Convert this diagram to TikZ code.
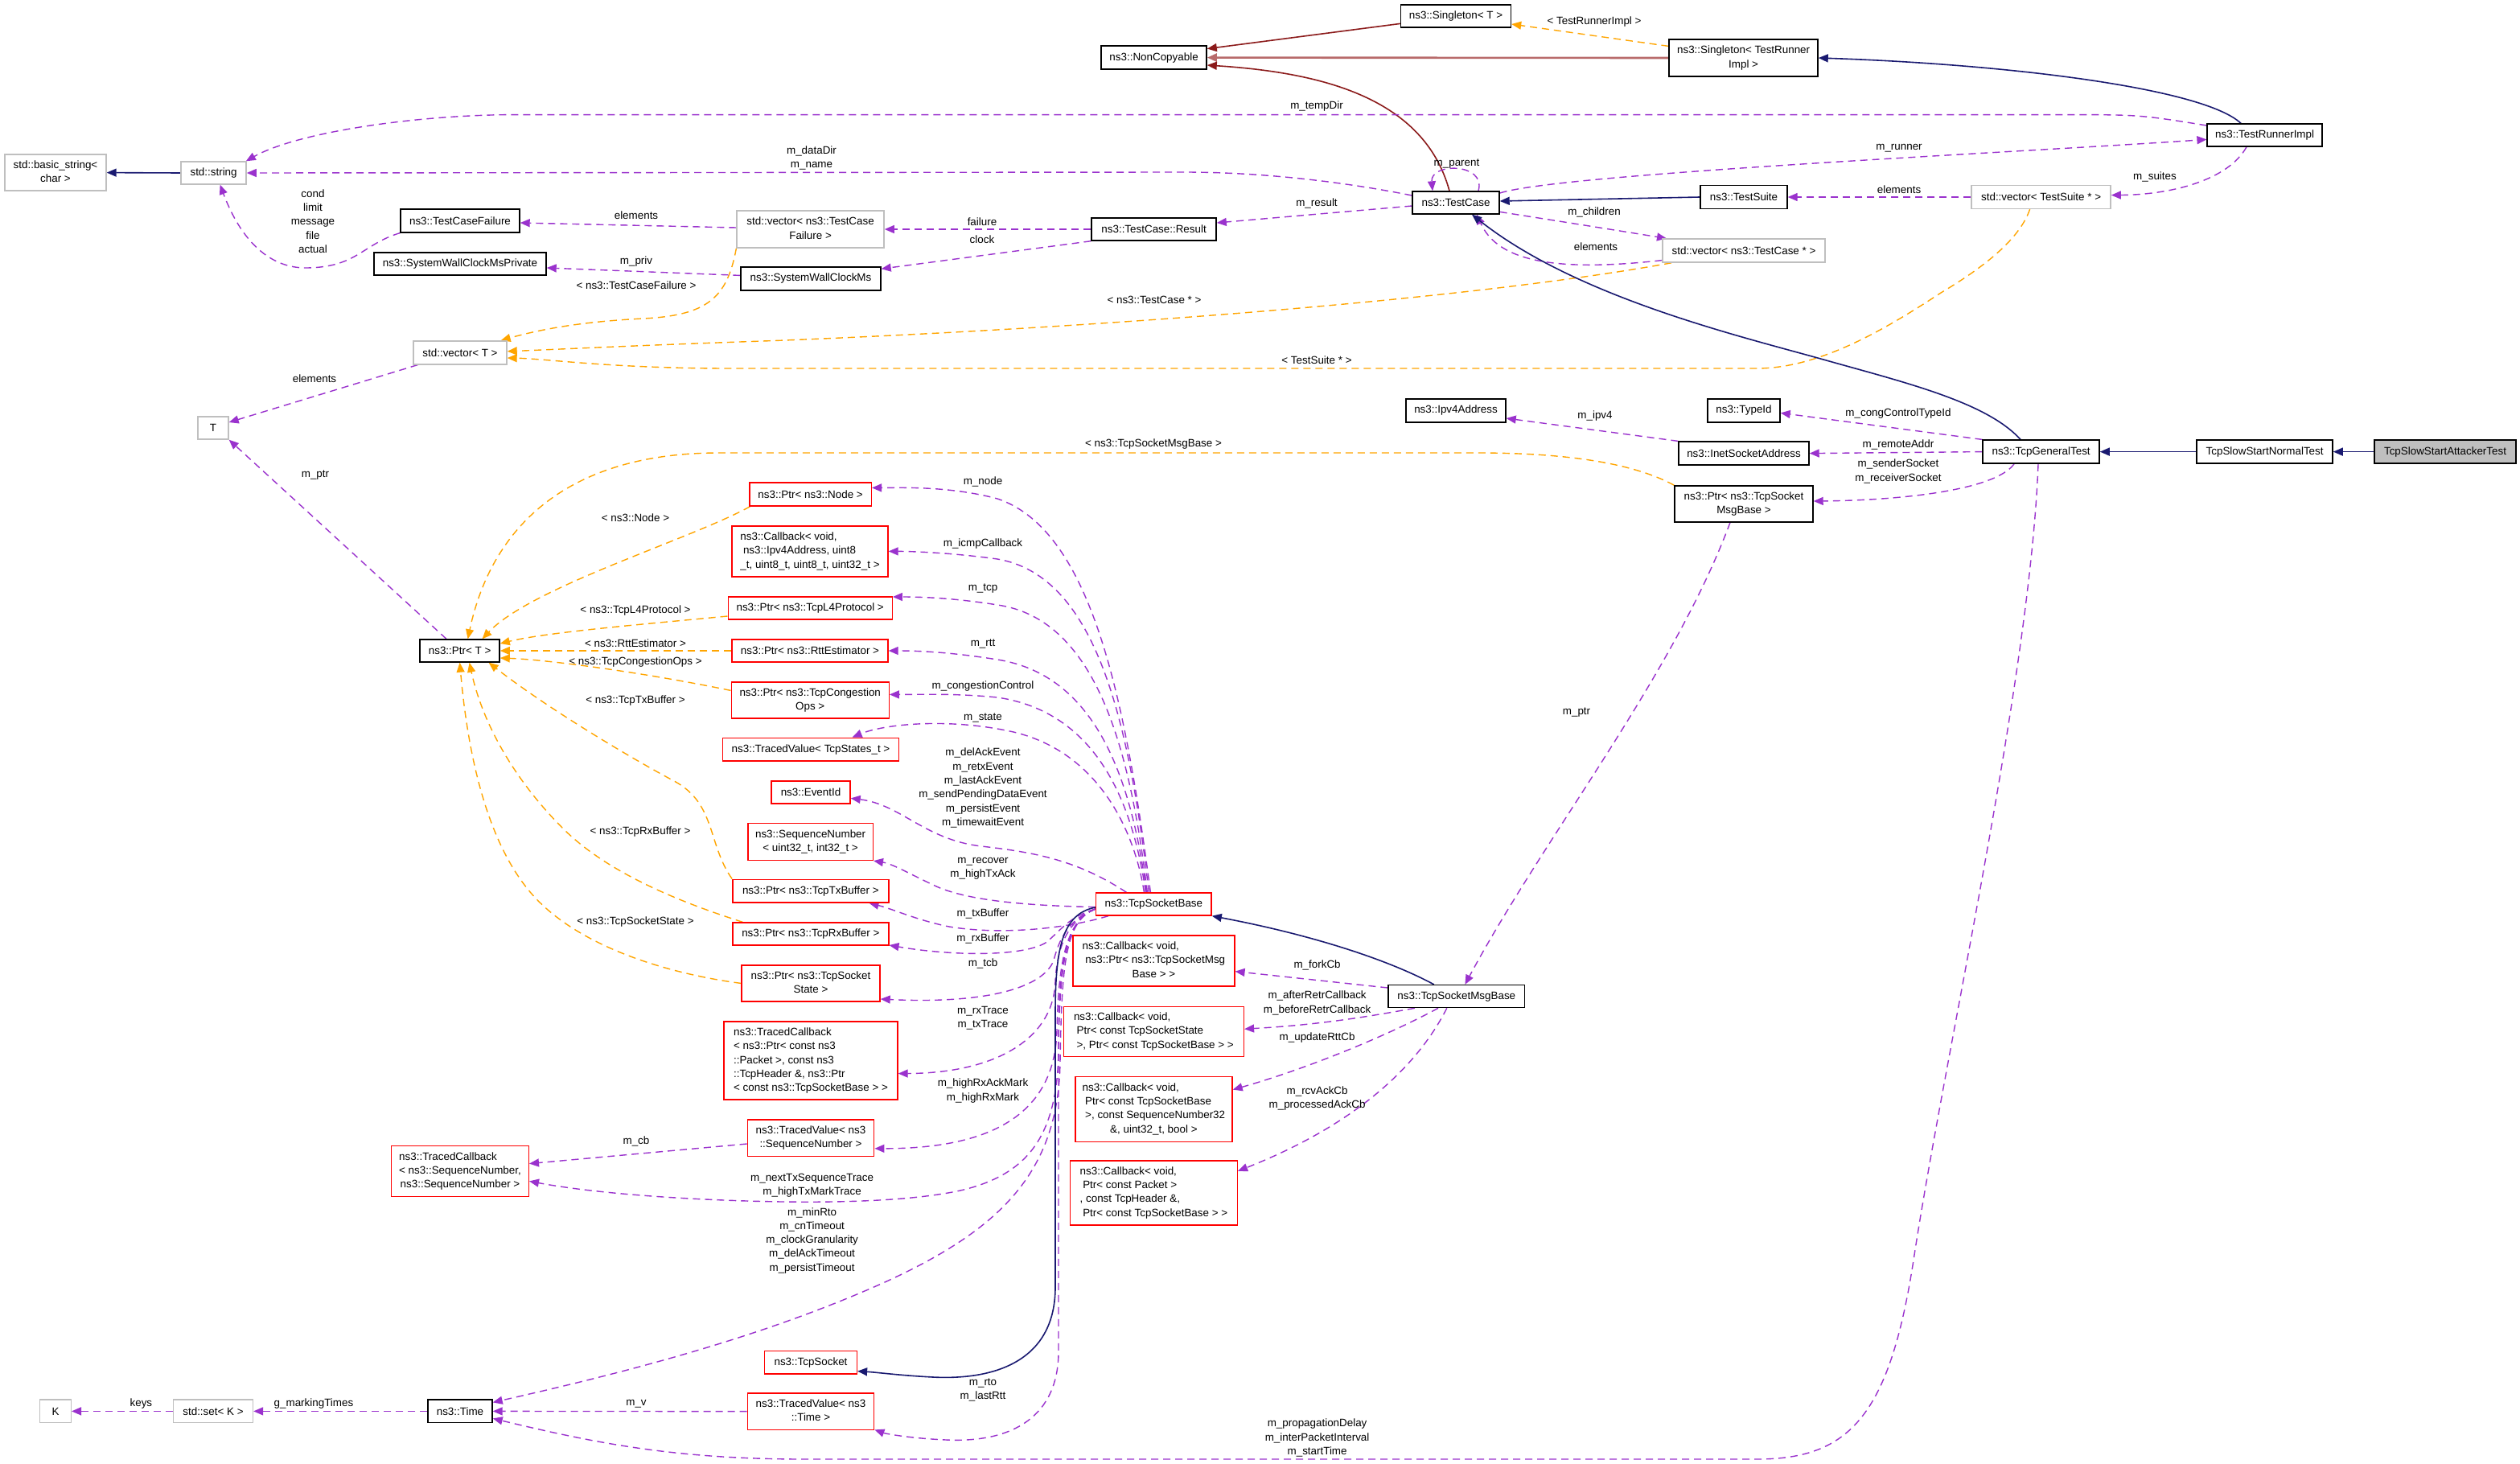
\documentclass[tikz,border=0pt]{standalone}
\usepackage{fontspec}
\setmainfont{Liberation Sans}
\usetikzlibrary{arrows.meta}
\definecolor{navy}{HTML}{191970}
\definecolor{usep}{HTML}{9A32CD}
\definecolor{orng}{HTML}{FFA500}
\definecolor{fbrick}{HTML}{8B1A1A}
\definecolor{fbrickl}{HTML}{B86A6A}
\definecolor{extg}{HTML}{BFBFBF}
\definecolor{incr}{HTML}{FF0000}
\newcommand{\fsz}{\fontsize{6.7}{8.65}\selectfont}
\newcommand{\mlines}[2]{\begin{tabular}{@{}l@{}}#1\\\multicolumn{1}{@{}c@{}}{#2}\end{tabular}}
\newcommand{\lsp}{\hspace*{1.8pt}}
\pgfdeclarelayer{bg}
\pgfsetlayers{bg,main}
\begin{document}
\begin{tikzpicture}[x=1pt,y=-1pt,
  box/.style={draw, line width=0.7pt, inner sep=0pt, font=\fsz, fill=white},
  doc/.style={box, draw=black},
  ext/.style={box, draw=extg},
  inc/.style={box, draw=incr},
  wh/.style 2 args={minimum width=#1pt, minimum height=#2pt},
  lbl/.style={font=\fsz, align=center, inner sep=0pt},
  inh/.style={draw=navy, line width=0.8pt, -{Triangle[length=6pt,width=5pt]}},
  use/.style={draw=usep, line width=0.7pt, dash pattern=on 4.5pt off 3pt, -{Triangle[length=6pt,width=5pt]}},
  tmpl/.style={draw=orng, line width=0.7pt, dash pattern=on 4.5pt off 3pt, -{Triangle[length=6pt,width=5pt]}},
  priv/.style={draw=fbrick, line width=0.8pt, -{Triangle[length=6pt,width=5pt]}},
  privl/.style={draw=fbrickl, line width=1.3pt, -{Triangle[length=6pt,width=5pt]}}
]
\useasboundingbox (0,0) rectangle (1566.5,910);

% ---------- nodes ----------
\node[doc,wh={68.5}{14}] (singT) at (905,10) {ns3::Singleton< T >};
\node[doc,wh={65.5}{14.5}] (noncopy) at (717.3,35.8) {ns3::NonCopyable};
\node[doc,wh={92.5}{23}] (singTRI) at (1083.8,36) {\mlines{ns3::Singleton< TestRunner}{Impl >}};
\node[doc,wh={71.5}{14}] (runner) at (1407.8,84) {ns3::TestRunnerImpl};
\node[ext,wh={63}{22.5}] (bstr) at (34.5,107.3) {\mlines{std::basic\_string<}{char >}};
\node[ext,wh={40.5}{14}] (str) at (132.8,107.5) {std::string};
\node[doc,wh={54}{14}] (testcase) at (905,126) {ns3::TestCase};
\node[doc,wh={54}{14.5}] (testsuite) at (1084,122.5) {ns3::TestSuite};
\node[ext,wh={86.5}{14.5}] (vecTS) at (1268.8,122.5) {std::vector< TestSuite * >};
\node[doc,wh={74}{14.5}] (tcf) at (286,137.2) {ns3::TestCaseFailure};
\node[ext,wh={91.5}{23}] (vecTCF) at (503.8,142.5) {\mlines{std::vector< ns3::TestCase}{Failure >}};
\node[doc,wh={77.5}{14}] (result) at (717.3,142.5) {ns3::TestCase::Result};
\node[ext,wh={101}{14.5}] (vecTC) at (1084,155.8) {std::vector< ns3::TestCase * >};
\node[doc,wh={107}{14}] (swcp) at (286,164) {ns3::SystemWallClockMsPrivate};
\node[doc,wh={87}{14.5}] (swc) at (504,173.2) {ns3::SystemWallClockMs};
\node[ext,wh={58}{14.5}] (vecT) at (286,219.2) {std::vector< T >};
\node[ext,wh={19}{14}] (T) at (132.5,266) {T};
\node[doc,wh={45}{14.5}] (typeid) at (1084,255.2) {ns3::TypeId};
\node[doc,wh={62}{14.5}] (ipv4) at (905,255.2) {ns3::Ipv4Address};
\node[doc,wh={81}{14.5}] (inet) at (1084,281.8) {ns3::InetSocketAddress};
\node[doc,wh={72.5}{14.5}] (general) at (1268.8,280.8) {ns3::TcpGeneralTest};
\node[doc,wh={84.5}{14.5}] (normal) at (1407.8,280.8) {TcpSlowStartNormalTest};
\node[doc,wh={88}{14.5},fill=extg] (attacker) at (1520,280.8) {TcpSlowStartAttackerTest};
\node[doc,wh={86}{22.5}] (ptrMsg) at (1084,313.2) {\mlines{ns3::Ptr< ns3::TcpSocket}{MsgBase >}};
\node[inc,wh={75.7}{14.5}] (ptrNode) at (503.8,307.2) {ns3::Ptr< ns3::Node >};
\node[inc,wh={97}{31.5}] (cbIcmp) at (503.5,342.7) {\mlines{ns3::Callback< void,\\\lsp ns3::Ipv4Address, uint8}{\_t, uint8\_t, uint8\_t, uint32\_t >}};
\node[doc,wh={49.5}{14}] (ptrT) at (285.8,404.5) {ns3::Ptr< T >};
\node[inc,wh={102}{14}] (ptrL4) at (503.6,378) {ns3::Ptr< ns3::TcpL4Protocol >};
\node[inc,wh={97}{14}] (ptrRtt) at (503.5,404.5) {ns3::Ptr< ns3::RttEstimator >};
\node[inc,wh={98}{22.5}] (ptrCong) at (503.6,435.2) {\mlines{ns3::Ptr< ns3::TcpCongestion}{Ops >}};
\node[inc,wh={109.3}{14.4}] (tvState) at (504,465.8) {ns3::TracedValue< TcpStates\_t >};
\node[inc,wh={49}{14}] (eventid) at (504,492.5) {ns3::EventId};
\node[inc,wh={77.7}{23}] (seqnum) at (503.8,523.2) {\mlines{ns3::SequenceNumber}{< uint32\_t, int32\_t >}};
\node[inc,wh={97}{14.4}] (ptrTx) at (503.9,553.8) {ns3::Ptr< ns3::TcpTxBuffer >};
\node[inc,wh={71.7}{14}] (tsb) at (717.2,562) {ns3::TcpSocketBase};
\node[inc,wh={97}{14}] (ptrRx) at (503.9,580.5) {ns3::Ptr< ns3::TcpRxBuffer >};
\node[inc,wh={100.5}{31.6}] (cbFork) at (717.2,597.2) {\mlines{ns3::Callback< void,\\\lsp ns3::Ptr< ns3::TcpSocketMsg}{Base > >}};
\node[doc,wh={84.8}{14}] (msgbase) at (905.4,619.3) {ns3::TcpSocketMsgBase};
\node[inc,wh={86}{22.4}] (ptrState) at (504,611.2) {\mlines{ns3::Ptr< ns3::TcpSocket}{State >}};
\node[inc,wh={112}{31.2}] (cbRetr) at (717.2,641.2) {\mlines{ns3::Callback< void,\\\lsp Ptr< const TcpSocketState}{\lsp >, Ptr< const TcpSocketBase > >}};
\node[inc,wh={108}{48.5}] (tcPkt) at (504,659.3) {\mlines{ns3::TracedCallback\\< ns3::Ptr< const ns3\\::Packet >, const ns3\\::TcpHeader \&, ns3::Ptr}{< const ns3::TcpSocketBase > >}};
\node[inc,wh={97.6}{40.4}] (cbAck) at (717.2,689.4) {\mlines{ns3::Callback< void,\\\lsp Ptr< const TcpSocketBase\\\lsp >, const SequenceNumber32}{\&, uint32\_t, bool >}};
\node[inc,wh={78.7}{22.6}] (tvSeq) at (504,707.3) {\mlines{ns3::TracedValue< ns3}{::SequenceNumber >}};
\node[inc,wh={85.3}{31.4}] (tcSeq) at (286,728) {\mlines{ns3::TracedCallback\\< ns3::SequenceNumber,}{ns3::SequenceNumber >}};
\node[inc,wh={104}{40}] (cbPkt) at (717.2,741.4) {\mlines{ns3::Callback< void,\\\lsp Ptr< const Packet >\\, const TcpHeader \&,}{\lsp Ptr< const TcpSocketBase > >}};
\node[inc,wh={57.4}{14.2}] (tcpsock) at (504,846.8) {ns3::TcpSocket};
\node[ext,wh={19.3}{14.3}] (K) at (34.5,877.2) {K};
\node[ext,wh={49.5}{14.3}] (setK) at (132.5,877.2) {std::set< K >};
\node[doc,wh={40}{14.3}] (time) at (286,877.2) {ns3::Time};
\node[inc,wh={78.7}{22.7}] (tvTime) at (504,877.3) {\mlines{ns3::TracedValue< ns3}{::Time >}};

% ---------- edge labels ----------
\node[lbl] (lb1) at (991,13.5) {< TestRunnerImpl >};
\node[lbl] (lb2) at (818.5,66) {m\_tempDir};
\node[lbl] (lb3) at (504.5,98.1) {m\_dataDir\\m\_name};
\node[lbl] (lb4) at (905.5,102) {m\_parent};
\node[lbl] (lb5) at (1180.5,92) {m\_runner};
\node[lbl] (lb6) at (1339.5,110) {m\_suites};
\node[lbl] (lb7) at (1180.5,118) {elements};
\node[lbl] (lb8) at (818.5,126.5) {m\_result};
\node[lbl] (lb9) at (991,132) {m\_children};
\node[lbl] (lb10) at (992,153.5) {elements};
\node[lbl] (lb11) at (194.5,137.5) {cond\\limit\\message\\file\\actual};
\node[lbl] (lb12) at (395.5,134) {elements};
\node[lbl] (lb13) at (610.5,138) {failure};
\node[lbl] (lb14) at (610.5,149) {clock};
\node[lbl] (lb15) at (395.5,162.5) {m\_priv};
\node[lbl] (lb16) at (395.5,177.5) {< ns3::TestCaseFailure >};
\node[lbl] (lb17) at (717.5,186.5) {< ns3::TestCase * >};
\node[lbl] (lb18) at (818.5,224) {< TestSuite * >};
\node[lbl] (lb19) at (195.5,235.5) {elements};
\node[lbl] (lb20) at (1180,257) {m\_congControlTypeId};
\node[lbl] (lb21) at (991.5,258.7) {m\_ipv4};
\node[lbl] (lb22) at (1180,276.5) {m\_remoteAddr};
\node[lbl] (lb23) at (1180,293) {m\_senderSocket\\m\_receiverSocket};
\node[lbl] (lb24) at (717,276) {< ns3::TcpSocketMsgBase >};
\node[lbl] (lb25) at (196,295.5) {m\_ptr};
\node[lbl] (lb26) at (395,322) {< ns3::Node >};
\node[lbl] (lb27) at (611,299.5) {m\_node};
\node[lbl] (lb28) at (611,338) {m\_icmpCallback};
\node[lbl] (lb29) at (611,365.7) {m\_tcp};
\node[lbl] (lb30) at (395,379.5) {< ns3::TcpL4Protocol >};
\node[lbl] (lb31) at (395,400) {< ns3::RttEstimator >};
\node[lbl] (lb32) at (611,400) {m\_rtt};
\node[lbl] (lb33) at (395,411.7) {< ns3::TcpCongestionOps >};
\node[lbl] (lb34) at (611,426.4) {m\_congestionControl};
\node[lbl] (lb35) at (395,435.5) {< ns3::TcpTxBuffer >};
\node[lbl] (lb36) at (980,443) {m\_ptr};
\node[lbl] (lb37) at (611,446) {m\_state};
\node[lbl] (lb38) at (611,489.8) {m\_delAckEvent\\m\_retxEvent\\m\_lastAckEvent\\m\_sendPendingDataEvent\\m\_persistEvent\\m\_timewaitEvent};
\node[lbl] (lb39) at (398,517) {< ns3::TcpRxBuffer >};
\node[lbl] (lb40) at (611,539.9) {m\_recover\\m\_highTxAck};
\node[lbl] (lb41) at (611,568) {m\_txBuffer};
\node[lbl] (lb42) at (395,573) {< ns3::TcpSocketState >};
\node[lbl] (lb43) at (611,583.5) {m\_rxBuffer};
\node[lbl] (lb44) at (611,599) {m\_tcb};
\node[lbl] (lb45) at (818.8,600.2) {m\_forkCb};
\node[lbl] (lb46) at (818.8,623.5) {m\_afterRetrCallback\\m\_beforeRetrCallback};
\node[lbl] (lb47) at (611,632.9) {m\_rxTrace\\m\_txTrace};
\node[lbl] (lb48) at (818.8,645.1) {m\_updateRttCb};
\node[lbl] (lb49) at (611,678) {m\_highRxAckMark\\m\_highRxMark};
\node[lbl] (lb50) at (818.8,682.7) {m\_rcvAckCb\\m\_processedAckCb};
\node[lbl] (lb51) at (395.5,709.5) {m\_cb};
\node[lbl] (lb52) at (504.8,736.9) {m\_nextTxSequenceTrace\\m\_highTxMarkTrace};
\node[lbl] (lb53) at (504.8,771.1) {m\_minRto\\m\_cnTimeout\\m\_clockGranularity\\m\_delAckTimeout\\m\_persistTimeout};
\node[lbl] (lb54) at (611,864) {m\_rto\\m\_lastRtt};
\node[lbl] (lb55) at (87.7,872.5) {keys};
\node[lbl] (lb56) at (195,872.5) {g\_markingTimes};
\node[lbl] (lb57) at (395.5,872.5) {m\_v};
\node[lbl] (lb58) at (818.8,893.8) {m\_propagationDelay\\m\_interPacketInterval\\m\_startTime};

% ---------- edges ----------
\begin{pgfonlayer}{bg}
\fill[white] (0,0) rectangle (1566.5,910);
\draw[priv] ([yshift=-4.7pt]singT.west) -- ([yshift=5.5pt]noncopy.east);
\draw[privl] (singTRI.west) -- (noncopy.east);
\draw[priv] ([xshift=-4pt]testcase.north) .. controls (885,60) and (820,45) .. ([yshift=-4.7pt]noncopy.east);
\draw[tmpl] ([yshift=7.3pt]singTRI.west) -- ([yshift=-5pt]singT.east);
\draw[inh] ([xshift=-14.8pt]runner.north) .. controls (1370,55) and (1250,40) .. (singTRI.east);
\draw[use] ([yshift=6pt]runner.west) .. controls (1330,71.3) .. (1282,71.3) -- (320,71.3) .. controls (260,71.3) and (185,82) .. ([xshift=-0.5pt]str.north east);
\draw[use] ([yshift=4.5pt]testcase.west) .. controls (830,112) and (780,107) .. (736,107) -- (str.east);
\draw[use] ([yshift=-2pt]testcase.west) -- ([yshift=4pt]result.east);
\draw[use] ([xshift=14pt]testcase.north) .. controls (924,101) and (889,101) .. ([xshift=-14.5pt]testcase.north);
\draw[inh] (testsuite.west) -- ([yshift=1pt]testcase.east);
\draw[use] ([yshift=6pt]testcase.east) .. controls (970,108) and (1250,95) .. ([yshift=-2.7pt]runner.west);
\draw[use] ([yshift=-5.7pt]testcase.east) .. controls (985,140) .. ([xshift=-48pt]vecTC.north);
\draw[use] ([yshift=-6pt]vecTC.west) .. controls (960,170) and (930,160) .. ([xshift=13pt]testcase.south);
\draw[use] ([xshift=-11.3pt]runner.south) .. controls (1385,112) and (1350,121) .. ([yshift=1.2pt]vecTS.east);
\draw[use] (vecTS.west) -- (testsuite.east);
\draw[tmpl] ([xshift=-7pt]vecTS.south) .. controls (1255,150) and (1230,168) .. (1206.5,182) .. controls (1170,206) and (1130,229) .. (1092,229) -- (454,229) .. controls (380,229) and (340,223) .. ([yshift=-3.3pt]vecT.east);
\draw[tmpl] ([xshift=-45pt]vecTC.south) .. controls (920,185) and (700,203) .. (483,211.7) .. controls (400,214.5) and (350,217) .. ([yshift=0.8pt]vecT.east);
\draw[tmpl] (vecTCF.south west) .. controls (452,185) and (440,196) .. (400,198) .. controls (360,200) and (335,205) .. ([xshift=-4pt]vecT.north east);
\draw[use] ([yshift=1pt]vecTCF.west) -- ([yshift=-1.3pt]tcf.east);
\draw[use] ([yshift=2pt]swc.west) -- ([yshift=-2.5pt]swcp.east);
\draw[use] (result.west) -- (vecTCF.east);
\draw[use] (result.south west) -- ([yshift=-1.5pt]swc.north east);
\draw[use] (tcf.south west) .. controls (225,152) and (222,166) .. (191,166.5) .. controls (168,167) and (150,150) .. ([xshift=4pt]str.south);
\draw[inh] (str.west) -- (bstr.east);
\draw[use] ([xshift=3pt]vecT.south west) -- ([yshift=3.5pt]T.east);
\draw[use] ([xshift=-8.3pt]ptrT.north) -- (T.south east);
\draw[tmpl] (ptrMsg.north west) .. controls (1010,285) and (960,281.5) .. (918,281.5) -- (447,281.5) .. controls (350,281.5) and (305,330) .. ([xshift=5pt]ptrT.north);
\draw[tmpl] ([xshift=0.7pt]ptrNode.south west) .. controls (430,335) and (330,365) .. ([xshift=14pt]ptrT.north);
\draw[tmpl] ([yshift=-5pt]ptrL4.west) .. controls (400,388) and (340,393) .. ([yshift=4.5pt]ptrT.east);
\draw[tmpl] (ptrRtt.west) -- (ptrT.east);
\draw[tmpl] ([yshift=6pt]ptrCong.west) .. controls (400,418) and (340,410) .. ([yshift=-4.5pt]ptrT.east);
\draw[tmpl] (ptrTx.north west) .. controls (440,525) and (445,500) .. (420,486) .. controls (390,470) and (340,440) .. ([xshift=18pt]ptrT.south);
\draw[tmpl] ([xshift=6.6pt]ptrRx.north west) .. controls (430,563) and (380,545) .. (350,515) .. controls (320,485) and (300,450) .. ([xshift=6pt]ptrT.south);
\draw[tmpl] (ptrState.west) .. controls (420,606) and (360,590) .. (330,555) .. controls (300,520) and (290,460) .. (ptrT.south);
% fan from TcpSocketBase top
\draw[use] ([xshift=-2pt]tsb.north) .. controls (700,440) and (680,330) .. (620,310) .. controls (590,302) and (560,303.2) .. ([yshift=4pt]ptrNode.east);
\draw[use] ([xshift=-3pt]tsb.north) .. controls (702,450) and (682,358) .. (620,347.5) .. controls (595,344) and (570,342.7) .. (cbIcmp.east);
\draw[use] ([xshift=-4pt]tsb.north) .. controls (703,470) and (683,385) .. (620,376) .. controls (595,372) and (575,371) .. ([yshift=7pt]ptrL4.east);
\draw[use] ([xshift=-4.5pt]tsb.north) .. controls (704,490) and (684,420) .. (620,410) .. controls (595,406) and (575,404.5) .. (ptrRtt.east);
\draw[use] ([xshift=-5pt]tsb.north) .. controls (705,505) and (685,443) .. (620,433.5) .. controls (595,431) and (575,431.7) .. ([yshift=3.5pt]ptrCong.east);
\draw[use] ([xshift=-6pt]tsb.north) .. controls (706,520) and (685,468) .. (630,455) .. controls (590,446) and (550,450) .. ([xshift=25.8pt]tvState.north);
\draw[use] ([xshift=-17pt]tsb.north) .. controls (670,535) and (645,530) .. (610,526) .. controls (575,522) and (560,500) .. ([yshift=-3.7pt]eventid.east);
\draw[use] ([yshift=-1.8pt]tsb.west) .. controls (640,563) and (600,560) .. (580,550) .. controls (565,543) and (555,537) .. (seqnum.south east);
\draw[use] ([xshift=8pt]tsb.south west) .. controls (660,578) and (620,581) .. (590,576) .. controls (570,572) and (555,565) .. ([xshift=-12.5pt]ptrTx.south east);
% bundle from TcpSocketBase left
\draw[use] ([yshift=-3pt]tsb.west) .. controls (664,570) and (660,578) .. (650,586) .. controls (635,595) and (590,594) .. ([yshift=-7pt]ptrRx.east);
\draw[use] ([yshift=-3pt]tsb.west) .. controls (664,571) and (658,585) .. (655,597) .. controls (648,615) and (610,624) .. ([yshift=-9.8pt]ptrState.east);
\draw[use] ([yshift=-3pt]tsb.west) .. controls (663,572) and (657,590) .. (656,610) .. controls (655,645) and (620,667) .. ([yshift=-8pt]tcPkt.east);
\draw[use] ([yshift=-3pt]tsb.west) .. controls (662,572) and (658,600) .. (657,640) .. controls (656,690) and (620,714) .. ([yshift=-6.6pt]tvSeq.east);
\draw[use] ([yshift=-3pt]tsb.west) .. controls (662,572) and (659,600) .. (658,650) .. controls (658,705) and (640,730) .. (597,740) .. controls (560,748) and (500,748) .. (450,746) .. controls (400,744) and (360,740) .. ([yshift=-6.2pt]tcSeq.east);
\draw[use] ([yshift=-3pt]tsb.west) .. controls (662,572) and (660,600) .. (659,660) .. controls (658,730) and (620,765) .. (550,797) .. controls (470,833) and (380,855) .. ([yshift=5.5pt]time.east);
\draw[use] ([yshift=-3pt]tsb.west) .. controls (662,572) and (658,600) .. (658,650) -- (658,840) .. controls (658,880) and (630,897) .. (588,895) .. controls (565,894) and (550,891) .. ([yshift=-11.4pt]tvTime.east);
\draw[inh] ([yshift=-2pt]tsb.west) .. controls (660,568) and (656,590) .. (656,630) -- (656,800) .. controls (656,845) and (620,858) .. (580,856) .. controls (560,855) and (545,853) .. ([yshift=-5.5pt]tcpsock.east);
\draw[use] ([xshift=-1.8pt]general.south) .. controls (1262,420) and (1210,650) .. (1190,780) .. controls (1175,880) and (1150,907) .. (1092,907) -- (500,907) .. controls (420,907) and (370,897) .. ([yshift=-4.5pt]time.east);
% TcpSocketMsgBase
\draw[use] ([yshift=5.3pt]msgbase.west) -- ([yshift=-6.6pt]cbFork.east);
\draw[use] ([xshift=-26pt]msgbase.south) .. controls (850,632) and (820,637) .. ([yshift=1.6pt]cbRetr.east);
\draw[use] ([xshift=-11.4pt]msgbase.south) .. controls (860,645) and (810,665) .. ([yshift=12.1pt]cbAck.east);
\draw[use] ([xshift=-6pt]msgbase.south) .. controls (880,665) and (840,700) .. ([yshift=13.5pt]cbPkt.east);
\draw[inh] ([xshift=-14pt]msgbase.north) .. controls (860,595) and (810,580) .. (tsb.south east);
\draw[use] ([xshift=-8.5pt]ptrMsg.south) .. controls (1040,420) and (960,520) .. ([xshift=5.3pt]msgbase.north);
% TcpGeneralTest
\draw[inh] ([xshift=-12.8pt]general.north) .. controls (1235,250) and (1185,238) .. (1133.5,223.5) .. controls (1082,209) and (980,185) .. ([xshift=10pt]testcase.south);
\draw[use] (general.north west) -- ([yshift=-1.5pt]typeid.east);
\draw[use] (general.west) -- (inet.east);
\draw[use] (inet.north west) -- ([yshift=-4.8pt]ipv4.east);
\draw[use] ([xshift=-16.8pt]general.south) .. controls (1240,305) and (1180,311) .. ([yshift=1.7pt]ptrMsg.east);
\draw[inh] (normal.west) -- (general.east);
\draw[inh] (attacker.west) -- (normal.east);
% bottom
\draw[use] ([yshift=-3.7pt]tvSeq.west) -- ([yshift=4.7pt]tcSeq.east);
\draw[use] (setK.west) -- (K.east);
\draw[use] (time.west) -- (setK.east);
\draw[use] (tvTime.west) -- (time.east);
\end{pgfonlayer}
\end{tikzpicture}
\end{document}
